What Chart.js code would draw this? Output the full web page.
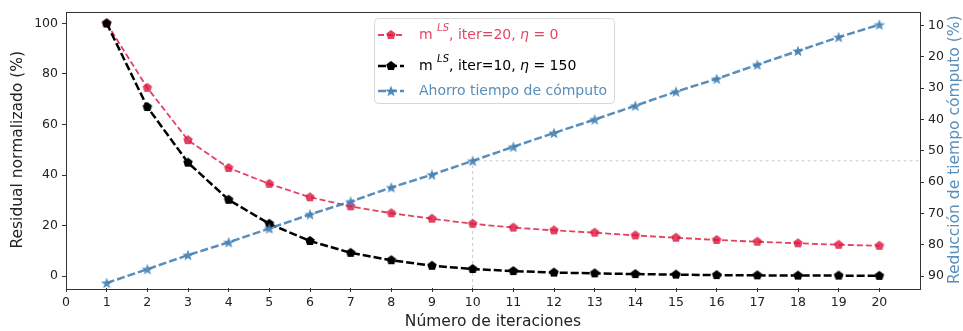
<!DOCTYPE html>
<html>
<head>
<meta charset="utf-8">
<script src="https://cdn.jsdelivr.net/npm/chart.js@4/dist/chart.umd.min.js"></script>
<style>
  body { margin: 0; background: #fff; }
  #wrap { width: 963px; height: 331px; position: relative; }
</style>
</head>
<body>
<div id="wrap"><canvas id="chart"></canvas></div>
<script>
// data
const iteraciones = [1, 2, 3, 4, 5, 6, 7, 8, 9, 10, 11, 12, 13, 14, 15, 16, 17, 18, 19, 20];
const residualIter20 = [100, 74.5, 53.8, 42.8, 36.5, 31.2, 27.6, 24.9, 22.7, 20.7, 19.2, 18.1, 17.2, 16.1, 15.2, 14.3, 13.6, 13.0, 12.4, 12.0];
const residualIter10 = [100, 66.9, 44.9, 30.2, 20.7, 13.9, 9.2, 6.3, 4.1, 2.8, 2.0, 1.4, 1.1, 0.8, 0.6, 0.4, 0.3, 0.2, 0.2, 0.1];
const ahorroTiempo = [92.2, 87.8, 83.3, 79.2, 74.8, 70.3, 66.2, 61.7, 57.6, 53.2, 48.7, 44.3, 40.0, 35.6, 31.1, 27.0, 22.5, 18.1, 13.7, 9.7];
const xTicks = [0, 1, 2, 3, 4, 5, 6, 7, 8, 9, 10, 11, 12, 13, 14, 15, 16, 17, 18, 19, 20];
const leftTicks = [0, 20, 40, 60, 80, 100];
const rightTicks = [10, 20, 30, 40, 50, 60, 70, 80, 90];
const refIter = 10;

const RED = 'rgba(220, 20, 60, 0.8)';
const BLACK = '#000000';
const BLUE = 'rgba(70, 130, 180, 0.9)';
const FONT = "'DejaVu Sans', sans-serif";
const rightTitle = 'Reducción de tiempo cómputo (%)';

function makePentagon(color, r) {
  const c = document.createElement('canvas');
  const s = Math.ceil(r * 2 + 2);
  c.width = s; c.height = s;
  const g = c.getContext('2d');
  g.beginPath();
  for (let i = 0; i < 5; i++) {
    const a = -Math.PI / 2 + i * 2 * Math.PI / 5;
    const px = s / 2 + r * Math.cos(a), py = s / 2 + r * Math.sin(a);
    if (i === 0) g.moveTo(px, py); else g.lineTo(px, py);
  }
  g.closePath();
  g.fillStyle = color;
  g.fill();
  return c;
}

function makeStar(color, r) {
  const c = document.createElement('canvas');
  const s = Math.ceil(r * 2 + 2);
  c.width = s; c.height = s;
  const g = c.getContext('2d');
  g.beginPath();
  for (let i = 0; i < 10; i++) {
    const rr = i % 2 === 0 ? r : r * 0.42;
    const a = -Math.PI / 2 + i * Math.PI / 5;
    const px = s / 2 + rr * Math.cos(a), py = s / 2 + rr * Math.sin(a) + 0.5;
    if (i === 0) g.moveTo(px, py); else g.lineTo(px, py);
  }
  g.closePath();
  g.fillStyle = color;
  g.fill();
  return c;
}

const redMarker = makePentagon(RED, 5);
const blackMarker = makePentagon(BLACK, 5);
const blueMarker = makeStar(BLUE, 6);

function pairs(ys) {
  return iteraciones.map((x, i) => ({ x: x, y: ys[i] }));
}

const legendItems = [
  { color: RED, marker: redMarker, dash: [6, 3], width: 1.8, parts: [['m ', 0], ['LS', 1], [', iter=20, ', 0], ['η', 2], [' = 0', 0]] },
  { color: BLACK, marker: blackMarker, dash: [8, 3], width: 2.5, parts: [['m ', 0], ['LS', 1], [', iter=10, ', 0], ['η', 2], [' = 150', 0]] },
  { color: BLUE, marker: blueMarker, dash: [8, 3], width: 2.5, parts: [['Ahorro tiempo de cómputo', 0]] }
];

const frameAndLegend = {
  id: 'frameAndLegend',
  afterDraw(chart) {
    const ctx = chart.ctx;
    const a = chart.chartArea;
    ctx.save();
    ctx.strokeStyle = '#333';
    ctx.lineWidth = 1;
    ctx.strokeRect(Math.round(a.left) + 0.5, Math.round(a.top) + 0.5, Math.round(a.right - a.left), Math.round(a.bottom - a.top));

    // right axis title, reading upwards like the left one
    ctx.save();
    ctx.translate(955, (a.top + a.bottom) / 2);
    ctx.rotate(-Math.PI / 2);
    ctx.font = '15.5px ' + FONT;
    ctx.fillStyle = BLUE;
    ctx.textAlign = 'center';
    ctx.textBaseline = 'middle';
    ctx.fillText(rightTitle, 0, 0);
    ctx.restore();

    // legend box
    ctx.beginPath();
    ctx.roundRect(374.5, 18.5, 240, 85, 4);
    ctx.fillStyle = 'rgba(255,255,255,0.85)';
    ctx.fill();
    ctx.strokeStyle = '#d8d8d8';
    ctx.stroke();

    const rows = [35, 66, 91];
    legendItems.forEach((it, i) => {
      const y = rows[i];
      ctx.beginPath();
      ctx.setLineDash(it.dash);
      ctx.strokeStyle = it.color;
      ctx.lineWidth = it.width;
      ctx.moveTo(378, y);
      ctx.lineTo(404, y);
      ctx.stroke();
      ctx.setLineDash([]);
      ctx.drawImage(it.marker, 391 - it.marker.width / 2, y - it.marker.height / 2);
      let x = 419;
      ctx.fillStyle = it.color;
      ctx.textBaseline = 'middle';
      it.parts.forEach(([t, kind]) => {
        if (kind === 1) {
          ctx.font = 'italic 10px ' + FONT;
          ctx.fillText(t, x, y - 7);
        } else if (kind === 2) {
          ctx.font = 'italic 14px ' + FONT;
          ctx.fillText(t, x, y);
        } else {
          ctx.font = '14px ' + FONT;
          ctx.fillText(t, x, y);
        }
        x += ctx.measureText(t).width;
      });
    });
    ctx.restore();
  }
};

const tickGrid = { display: true, drawOnChartArea: false, drawTicks: true, tickLength: 4, color: '#333' };

new Chart(document.getElementById('chart'), {
  type: 'line',
  data: {
    datasets: [
      {
        label: 'm LS, iter=20, η = 0',
        data: pairs(residualIter20),
        yAxisID: 'y',
        borderColor: RED,
        backgroundColor: RED,
        borderWidth: 1.8,
        borderDash: [6, 3],
        pointStyle: redMarker,
        order: 3
      },
      {
        label: 'm LS, iter=10, η = 150',
        data: pairs(residualIter10),
        yAxisID: 'y',
        borderColor: BLACK,
        backgroundColor: BLACK,
        borderWidth: 2.5,
        borderDash: [8, 3],
        pointStyle: blackMarker,
        order: 2
      },
      {
        label: 'Ahorro tiempo de cómputo',
        data: pairs(ahorroTiempo),
        yAxisID: 'y1',
        borderColor: BLUE,
        backgroundColor: BLUE,
        borderWidth: 2.5,
        borderDash: [8, 3],
        pointStyle: blueMarker,
        order: 1
      },
      {
        label: 'ref',
        data: [
          { x: refIter, y: 93.8 },
          { x: refIter, y: ahorroTiempo[refIter - 1] },
          { x: 21, y: ahorroTiempo[refIter - 1] }
        ],
        yAxisID: 'y1',
        borderColor: '#c8c8c8',
        borderWidth: 1,
        borderDash: [3, 3],
        pointRadius: 0,
        order: 4
      }
    ]
  },
  options: {
    responsive: true,
    maintainAspectRatio: false,
    animation: false,
    layout: { padding: { top: 10, left: 0, right: 0, bottom: 0 }, autoPadding: false },
    elements: { line: { tension: 0, fill: false } },
    plugins: { legend: { display: false }, tooltip: { enabled: false } },
    scales: {
      x: {
        type: 'linear',
        min: 0,
        max: 21,
        border: { display: false },
        grid: tickGrid,
        afterBuildTicks: s => { s.ticks = xTicks.map(v => ({ value: v })); },
        afterFit: s => { s.height = 43; },
        ticks: { color: '#222', font: { family: FONT, size: 12.5 }, padding: 3, maxRotation: 0 },
        title: { display: true, text: 'Número de iteraciones', color: '#222', font: { family: FONT, size: 15.5 }, padding: { top: 0, bottom: 0 } }
      },
      y: {
        position: 'left',
        min: -4.7,
        max: 104.7,
        border: { display: false },
        grid: tickGrid,
        afterBuildTicks: s => { s.ticks = leftTicks.map(v => ({ value: v })); },
        afterFit: s => { s.width = 66; },
        ticks: { color: '#222', font: { family: FONT, size: 12.5 }, padding: 4 },
        title: { display: true, text: 'Residual normalizado (%)', color: '#222', font: { family: FONT, size: 15.5 }, padding: { top: 9, bottom: 0 } }
      },
      y1: {
        position: 'right',
        reverse: true,
        min: 5.5,
        max: 93.8,
        border: { display: false },
        grid: tickGrid,
        afterBuildTicks: s => { s.ticks = rightTicks.map(v => ({ value: v })); },
        afterFit: s => { s.width = 43; },
        ticks: { color: '#222', font: { family: FONT, size: 12.5 }, padding: 4 },
        title: { display: false }
      }
    }
  },
  plugins: [frameAndLegend]
});
</script>
</body>
</html>
